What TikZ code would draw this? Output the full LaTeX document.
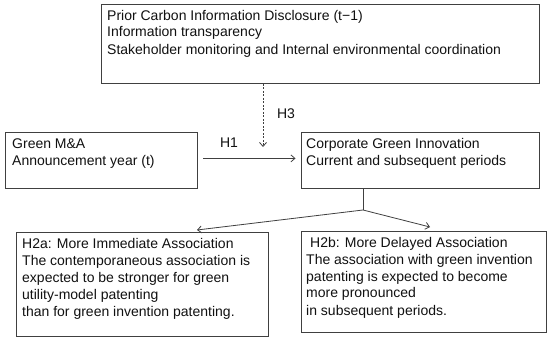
\documentclass[tikz,border=0pt]{standalone}
\usepackage{fontspec}
\setmainfont{Liberation Sans}
\usetikzlibrary{arrows.meta,calc}
\definecolor{linec}{HTML}{404040}
\definecolor{textc}{HTML}{111111}
\newcommand\txtlines[1]{\begin{tabular}[t]{@{}l@{}}#1\end{tabular}}
\begin{document}
\begin{tikzpicture}[x=1pt,y=-1pt,
  box/.style={draw=linec,line width=0.8pt,inner sep=0pt,anchor=north west},
  txt/.style={anchor=base west,inner sep=0pt,text=textc,font=\fontsize{14}{17}\selectfont},
  conn/.style={draw=linec,line width=0.8pt},
  arr/.style={conn,-{Straight Barb[length=4pt,width=7pt]}},
  dotted line/.style={dash pattern=on 2pt off 1.5pt},
  lbl/.style={text=textc,font=\fontsize{14}{17}\selectfont,inner sep=0pt}]
\fill[white] (0,0) rectangle (550,340);
% boxes
\node[box,minimum width=438pt,minimum height=79pt] (top) at (101,4) {};
\node[box,minimum width=192pt,minimum height=56pt] (left) at (5,132) {};
\node[box,minimum width=238pt,minimum height=56pt] (right) at (301,132) {};
\node[box,minimum width=252pt,minimum height=104pt] (bl) at (16,232) {};
\node[box,minimum width=245pt,minimum height=101pt] (br) at (301,231) {};
% texts
\node[txt] (topT) at (107,20) {\txtlines{Prior Carbon Information Disclosure (t\textminus1)\\Information transparency\\Stakeholder monitoring and Internal environmental coordination}};
\node[txt] (leftT) at (12,148) {\txtlines{Green M\&A\\Announcement year (t)}};
\node[txt] (rightT) at (306,148) {\txtlines{Corporate Green Innovation\\Current and subsequent periods}};
\node[txt] (blT) at (22,248) {\txtlines{H2a: More Immediate Association\\The contemporaneous association is\\expected to be stronger for green\\utility-model patenting\\than for green invention patenting.}};
\node[txt] (brT) at (306,247) {\txtlines{\hspace{4pt}H2b: More Delayed Association\\The association with green invention\\patenting is expected to become\\more pronounced\\in subsequent periods.}};
% labels
\node[lbl] (h1) at (229,143) {H1};
\node[lbl] (h3) at (286,114) {H3};
% connectors
\draw[arr] ($(left.east)+(5.5,-2)$) -- ($(right.west)+(-5.5,-2)$);
\coordinate (h3end) at (263,147);
\draw[arr,dotted line] (top.south -| h3end) -- (h3end);
\coordinate (jn) at (363,210);
\draw[conn] (right.south -| jn) -- (jn);
\draw[arr] (jn) -- ($(bl.north west)+(181,-2)$);
\draw[arr] (jn) -- ($(br.north west)+(129,-4)$);
\end{tikzpicture}
\end{document}
